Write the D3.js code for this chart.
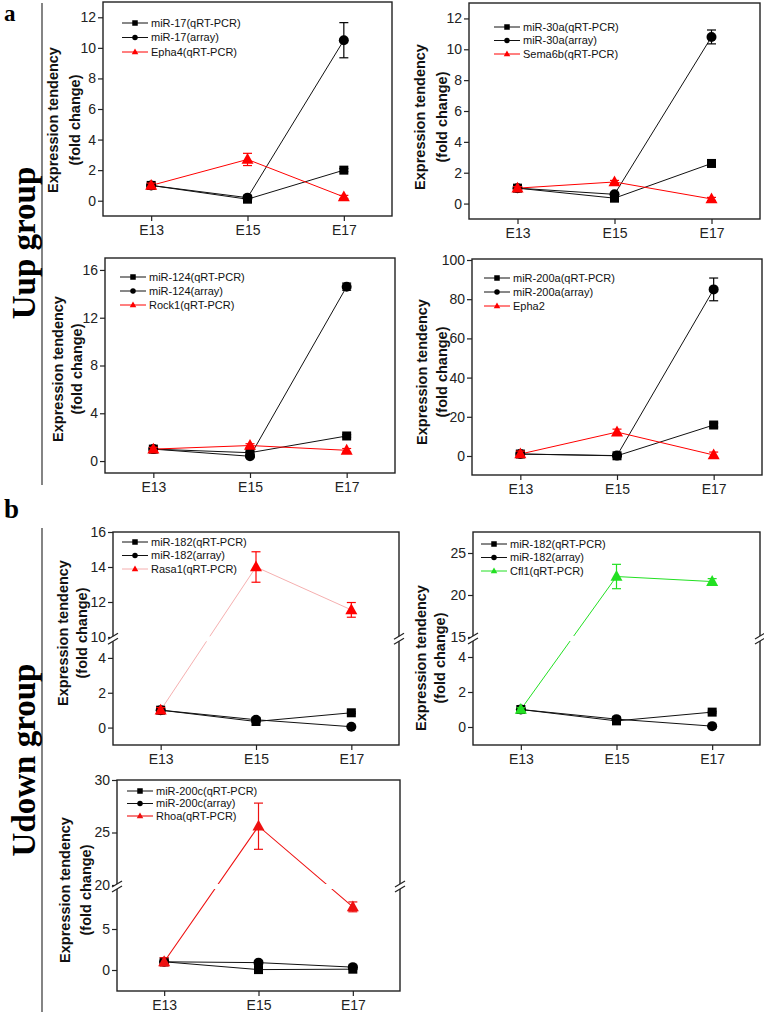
<!DOCTYPE html>
<html><head><meta charset="utf-8">
<script src="https://cdn.jsdelivr.net/npm/d3@7"></script>
<style>
html,body{margin:0;padding:0;background:#fff;}
svg{display:block;}
text{font-family:"Liberation Sans",Arial,sans-serif;}
text.serif{font-family:"Liberation Serif","Times New Roman",serif;font-weight:bold;}
</style></head>
<body>
<svg id="chart" width="764" height="1014"></svg>
<script>
// ---------- DATA ----------
const timepoints = ["E13", "E15", "E17"];
const timeValues = [13, 15, 17];

// Panel 1 : miR-17 / Epha4
const p1Names = ["miR-17(qRT-PCR)", "miR-17(array)", "Epha4(qRT-PCR)"];
const p1Qpcr = [1.0, 0.1, 2.0];
const p1QpcrErr = [0.05, 0.05, 0.1];
const p1Array = [1.0, 0.2, 10.5];
const p1ArrayErr = [0.05, 0.1, 1.15];
const p1Target = [1.0, 2.7, 0.25];
const p1TargetErr = [0.15, 0.4, 0.1];
const p1Ticks = [0, 2, 4, 6, 8, 10, 12];

// Panel 2 : miR-30a / Sema6b
const p2Names = ["miR-30a(qRT-PCR)", "miR-30a(array)", "Sema6b(qRT-PCR)"];
const p2Qpcr = [1.0, 0.35, 2.6];
const p2QpcrErr = [0.1, 0.1, 0.12];
const p2Array = [1.0, 0.6, 10.8];
const p2ArrayErr = [0.05, 0.1, 0.45];
const p2Target = [1.0, 1.4, 0.3];
const p2TargetErr = [0.1, 0.1, 0.1];
const p2Ticks = [0, 2, 4, 6, 8, 10, 12];

// Panel 3 : miR-124 / Rock1
const p3Names = ["miR-124(qRT-PCR)", "miR-124(array)", "Rock1(qRT-PCR)"];
const p3Qpcr = [1.0, 0.7, 2.1];
const p3QpcrErr = [0.1, 0.1, 0.1];
const p3Array = [1.0, 0.4, 14.6];
const p3ArrayErr = [0.05, 0.1, 0.3];
const p3Target = [1.0, 1.3, 0.9];
const p3TargetErr = [0.15, 0.15, 0.15];
const p3Ticks = [0, 4, 8, 12, 16];

// Panel 4 : miR-200a / Epha2
const p4Names = ["miR-200a(qRT-PCR)", "miR-200a(array)", "Epha2"];
const p4Qpcr = [1.0, 0.1, 15.8];
const p4QpcrErr = [0.5, 0.3, 1.0];
const p4Array = [1.0, 0.2, 85];
const p4ArrayErr = [0.5, 0.3, 5.8];
const p4Target = [1.0, 12.2, 0.5];
const p4TargetErr = [1.5, 1.5, 1.5];
const p4Ticks = [0, 20, 40, 60, 80, 100];

// Panel 5 : miR-182 / Rasa1
const p5Names = ["miR-182(qRT-PCR)", "miR-182(array)", "Rasa1(qRT-PCR)"];
const p5Qpcr = [1.0, 0.35, 0.85];
const p5QpcrErr = [0.05, 0.05, 0.05];
const p5Array = [1.0, 0.45, 0.05];
const p5ArrayErr = [0.05, 0.05, 0.05];
const p5Target = [1.0, 14.0, 11.55];
const p5TargetErr = [0.15, 0.87, 0.42];
const p5Ticks = [0, 2, 4, 10, 12, 14, 16];

// Panel 6 : miR-182 / Cfl1
const p6Names = ["miR-182(qRT-PCR)", "miR-182(array)", "Cfl1(qRT-PCR)"];
const p6Qpcr = [1.0, 0.35, 0.85];
const p6QpcrErr = [0.05, 0.05, 0.05];
const p6Array = [1.0, 0.45, 0.05];
const p6ArrayErr = [0.05, 0.05, 0.05];
const p6Target = [1.0, 22.2, 21.6];
const p6TargetErr = [0.1, 1.45, 0.35];
const p6Ticks = [0, 2, 4, 15, 20, 25];

// Panel 7 : miR-200c / Rhoa
const p7Names = ["miR-200c(qRT-PCR)", "miR-200c(array)", "Rhoa(qRT-PCR)"];
const p7Qpcr = [1.0, 0.05, 0.1];
const p7QpcrErr = [0.05, 0.05, 0.05];
const p7Array = [1.0, 0.9, 0.35];
const p7ArrayErr = [0.05, 0.05, 0.05];
const p7Target = [1.0, 25.6, 7.7];
const p7TargetErr = [0.5, 2.2, 0.6];
const p7Ticks = [0, 5, 20, 25, 30];

const yTitle = ["Expression tendency", "(fold change)"];
const groupLetters = ["a", "b"];
const groupNames = ["Uup group", "Udown group"];

// ---------- LAYOUT (positions/styles only) ----------
const panels = [
  {names:p1Names, qpcr:p1Qpcr, qErr:p1QpcrErr, arr:p1Array, aErr:p1ArrayErr, tgt:p1Target, tErr:p1TargetErr, ticks:p1Ticks,
   left:103, right:392, top:2, bottom:216, yDom:[-1,13], yRng:[216,2], tColor:"#ff0000", tLine:"#ff0000", tW:1,
   leg:{x:122, y:23, dy:14.5}, title:{x1:53, x2:75, cy:120}},
  {names:p2Names, qpcr:p2Qpcr, qErr:p2QpcrErr, arr:p2Array, aErr:p2ArrayErr, tgt:p2Target, tErr:p2TargetErr, ticks:p2Ticks,
   left:469, right:760, top:3, bottom:219, yDom:[-1,13], yRng:[219,3], tColor:"#ff0000", tLine:"#ff0000", tW:1,
   leg:{x:494, y:27, dy:13.5}, title:{x1:420, x2:442, cy:117}},
  {names:p3Names, qpcr:p3Qpcr, qErr:p3QpcrErr, arr:p3Array, aErr:p3ArrayErr, tgt:p3Target, tErr:p3TargetErr, ticks:p3Ticks,
   left:105, right:395, top:258, bottom:473, yDom:[-1,17], yRng:[473,258], tColor:"#ff0000", tLine:"#ff0000", tW:1,
   leg:{x:120, y:277, dy:14}, title:{x1:58, x2:77, cy:369}},
  {names:p4Names, qpcr:p4Qpcr, qErr:p4QpcrErr, arr:p4Array, aErr:p4ArrayErr, tgt:p4Target, tErr:p4TargetErr, ticks:p4Ticks,
   left:472, right:762, top:259, bottom:475, yDom:[-9.7,100], yRng:[475,260], tColor:"#ff0000", tLine:"#ff0000", tW:1,
   leg:{x:484, y:278, dy:14}, title:{x1:422, x2:442, cy:372}},
  {names:p5Names, qpcr:p5Qpcr, qErr:p5QpcrErr, arr:p5Array, aErr:p5ArrayErr, tgt:p5Target, tErr:p5TargetErr, ticks:p5Ticks,
   left:113, right:399, top:532, bottom:745, yDom:[-1,5,10,16], yRng:[745,640.5,637,532], brk:638.8, tColor:"#ff0000", tLine:"#f39a9a", tW:0.8,
   leg:{x:122, y:542, dy:13.5}, title:{x1:63, x2:82, cy:633}},
  {names:p6Names, qpcr:p6Qpcr, qErr:p6QpcrErr, arr:p6Array, aErr:p6ArrayErr, tgt:p6Target, tErr:p6TargetErr, ticks:p6Ticks,
   left:473, right:760, top:532, bottom:745, yDom:[-1,5,15,27.5], yRng:[744.5,639.5,637,532], brk:638.5, tColor:"#22e022", tLine:"#22e022", tW:1,
   leg:{x:481, y:544, dy:13.5}, title:{x1:421, x2:440, cy:658}},
  {names:p7Names, qpcr:p7Qpcr, qErr:p7QpcrErr, arr:p7Array, aErr:p7ArrayErr, tgt:p7Target, tErr:p7TargetErr, ticks:p7Ticks,
   left:117, right:400, top:780, bottom:991, yDom:[-2.56,10,20,30], yRng:[991,888,885,780], brk:886.5, tColor:"#ee1111", tLine:"#ee1111", tW:1.1,
   leg:{x:127, y:791, dy:12.5}, title:{x1:65, x2:86, cy:890}}
];

const svg = d3.select("#chart");
svg.append("rect").attr("width",764).attr("height",1014).attr("fill","#fff");

// group labels
svg.append("text").attr("class","serif").attr("x",4).attr("y",21).attr("font-size",23).text(groupLetters[0]);
svg.append("text").attr("class","serif").attr("x",4).attr("y",518).attr("font-size",27).text(groupLetters[1]);
svg.append("line").attr("x1",42).attr("x2",42).attr("y1",3).attr("y2",485).attr("stroke","#333").attr("stroke-width",1.2);
svg.append("line").attr("x1",42).attr("x2",42).attr("y1",528).attr("y2",1012).attr("stroke","#333").attr("stroke-width",1.2);
svg.append("text").attr("class","serif").attr("transform","translate(35,243) rotate(-90)").attr("text-anchor","middle")
  .attr("font-size",33).text(groupNames[0]);
svg.append("text").attr("class","serif").attr("transform","translate(35,760) rotate(-90)").attr("text-anchor","middle")
  .attr("font-size",33).text(groupNames[1]);

function marker(g, type, cx, cy, s, fill) {
  if (type === "square") {
    g.append("rect").attr("x",cx-s/2).attr("y",cy-s/2).attr("width",s).attr("height",s).attr("fill",fill);
  } else if (type === "circle") {
    g.append("circle").attr("cx",cx).attr("cy",cy).attr("r",s/2).attr("fill",fill);
  } else {
    const h = s*0.9;
    g.append("path").attr("d",`M${cx},${cy-h*0.6}L${cx+s/2},${cy+h*0.4}L${cx-s/2},${cy+h*0.4}Z`).attr("fill",fill);
  }
}

panels.forEach(p => {
  const g = svg.append("g");
  const x = d3.scaleLinear().domain([12,18]).range([p.left,p.right]);
  const y = d3.scaleLinear().domain(p.yDom).range(p.yRng);

  // axes
  const ya = g.append("g").attr("transform",`translate(${p.left},0)`)
    .call(d3.axisLeft(y).tickValues(p.ticks).tickSize(5).tickPadding(2).tickFormat(d3.format("d")));
  ya.select(".domain").remove();
  ya.selectAll("text").attr("font-size",14).attr("fill","#222");
  ya.selectAll("line").attr("stroke","#222").attr("stroke-width",1.2);
  const xa = g.append("g").attr("transform",`translate(0,${p.bottom})`)
    .call(d3.axisBottom(x).tickValues(timeValues).tickSize(5).tickPadding(4).tickFormat((d,i)=>timepoints[i]));
  xa.select(".domain").remove();
  xa.selectAll("text").attr("font-size",14).attr("fill","#222");
  xa.selectAll("line").attr("stroke","#222").attr("stroke-width",1.2);

  // axis title
  [p.title.x1, p.title.x2].forEach((tx,i) => {
    g.append("text").attr("transform",`translate(${tx},${p.title.cy}) rotate(-90)`)
      .attr("text-anchor","middle").attr("dy","0.35em").attr("font-weight","bold").attr("font-size",14.5)
      .attr("fill","#111").text(yTitle[i]);
  });

  // frame
  g.append("rect").attr("x",p.left).attr("y",p.top).attr("width",p.right-p.left).attr("height",p.bottom-p.top)
    .attr("fill","none").attr("stroke","#222").attr("stroke-width",1.4);

  const series = [
    {vals:p.qpcr, err:p.qErr, type:"square", color:"#000", line:"#111", w:1, size:9},
    {vals:p.arr, err:p.aErr, type:"circle", color:"#000", line:"#111", w:1, size:10},
    {vals:p.tgt, err:p.tErr, type:"triangle", color:p.tColor, line:p.tLine, w:p.tW, size:12}
  ];
  const lineGen = d3.line().x((d,i)=>x(timeValues[i])).y(d=>y(d));
  const plot = g.append("g");
  series.forEach(s => {
    plot.append("path").attr("d",lineGen(s.vals)).attr("fill","none").attr("stroke",s.line).attr("stroke-width",s.w);
  });
  // break band cuts lines and frame
  if (p.brk !== undefined) {
    plot.append("rect").attr("x",p.left-3).attr("y",p.brk-2.5).attr("width",p.right-p.left+6).attr("height",5).attr("fill","#fff");
  }
  series.forEach(s => {
    s.vals.forEach((v,i) => {
      const cx = x(timeValues[i]);
      const e = s.err[i];
      const y1 = y(v+e), y2 = y(v-e);
      const ec = s.type==="triangle" ? s.color : "#000";
      plot.append("line").attr("x1",cx).attr("x2",cx).attr("y1",y1).attr("y2",y2).attr("stroke",ec).attr("stroke-width",1.2);
      [y1,y2].forEach(yy => plot.append("line").attr("x1",cx-4.5).attr("x2",cx+4.5).attr("y1",yy).attr("y2",yy).attr("stroke",ec).attr("stroke-width",1.2));
      marker(plot, s.type, cx, y(v), s.size, s.color);
    });
  });
  if (p.brk !== undefined) {
    [p.left, p.right].forEach(bx => {
      [-2.5, 2.5].forEach(off => {
        g.append("line").attr("x1",bx-5).attr("x2",bx+5).attr("y1",p.brk+off+3).attr("y2",p.brk+off-3)
          .attr("stroke","#222").attr("stroke-width",1.2);
      });
    });
  }

  // legend
  const lg = g.append("g");
  series.forEach((s,i) => {
    const ly = p.leg.y + i*p.leg.dy;
    lg.append("line").attr("x1",p.leg.x).attr("x2",p.leg.x+26).attr("y1",ly).attr("y2",ly).attr("stroke",s.line).attr("stroke-width",s.w);
    marker(lg, s.type, p.leg.x+13, ly, s.type==="triangle"?6.5:5.5, s.color);
    lg.append("text").attr("x",p.leg.x+29).attr("y",ly).attr("dy","0.35em").attr("font-size",11).attr("fill","#111").text(p.names[i]);
  });
});
</script>
</body></html>
